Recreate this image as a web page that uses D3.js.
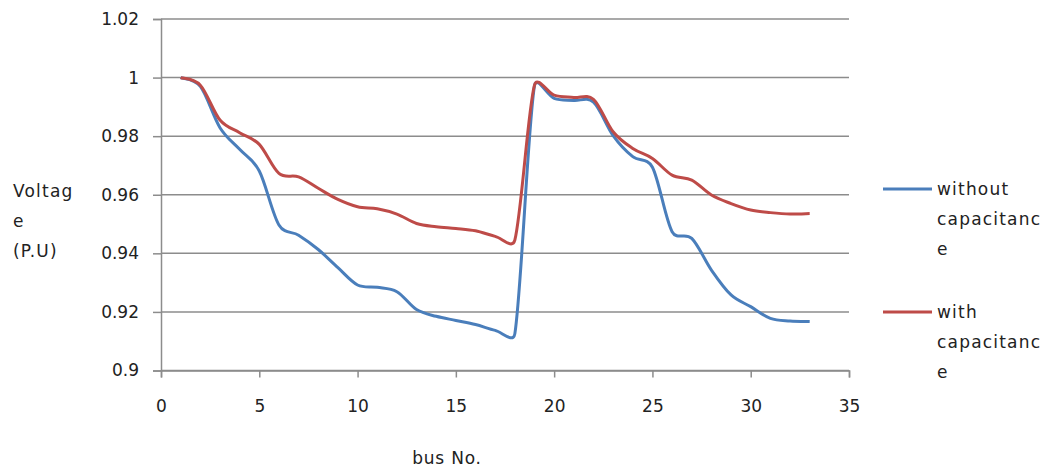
<!DOCTYPE html>
<html><head><meta charset="utf-8">
<script src="https://cdn.jsdelivr.net/npm/d3@7"></script>
<style>body{margin:0;background:#fff}svg{display:block}text{font-family:"DejaVu Sans",sans-serif;fill:#222}</style>
</head><body>
<script>
const buses = d3.range(1, 34);
const withoutCap = [1.0,0.997,0.9829,0.9755,0.9681,0.9497,0.9462,0.9413,0.9351,0.9292,0.9284,0.9269,0.9208,0.9185,0.9171,0.9157,0.9137,0.9125,0.9972,0.9929,0.9922,0.9916,0.9802,0.9730,0.9694,0.9474,0.9451,0.9343,0.9258,0.9218,0.9178,0.9169,0.9167];
const withCap = [1.0,0.9974,0.9855,0.9812,0.9772,0.9673,0.9661,0.9622,0.9584,0.9559,0.9552,0.9534,0.9502,0.9491,0.9485,0.9477,0.9458,0.9445,0.9974,0.9940,0.9932,0.9926,0.9815,0.9758,0.9724,0.9667,0.9650,0.9599,0.9570,0.9548,0.9539,0.9534,0.9536];
const xTicks = [0,5,10,15,20,25,30,35];
const yTicks = [0.9,0.92,0.94,0.96,0.98,1,1.02];
const seriesNames = ["without capacitance","with capacitance"];
const colors = ["#4a7ebb","#be4b48"];

// Excel-like smoothed line curve (Bezier, tension 1/6, tangents clipped to half segment length)
function excelSmooth(context){
  let pts=[];
  return {
    areaStart(){}, areaEnd(){},
    lineStart(){pts=[];},
    point(x,y){pts.push([+x,+y]);},
    lineEnd(){
      const n=pts.length; if(!n) return;
      const dist=(a,b)=>Math.hypot(b[0]-a[0],b[1]-a[1]);
      context.moveTo(pts[0][0],pts[0][1]);
      for(let i=0;i<n-1;i++){
        const p0=pts[Math.max(i-1,0)],p1=pts[i],p2=pts[i+1],p3=pts[Math.min(i+2,n-1)];
        const d12=dist(p1,p2),d02=dist(p0,p2),d13=dist(p1,p3);
        let f0=1/6,f3=1/6;
        if(d02/6>d12/2&&d02>0) f0=d12/(2*d02);
        if(d13/6>d12/2&&d13>0) f3=d12/(2*d13);
        const c1=[p1[0]+(p2[0]-p0[0])*f0,p1[1]+(p2[1]-p0[1])*f0];
        const c2=[p2[0]-(p3[0]-p1[0])*f3,p2[1]-(p3[1]-p1[1])*f3];
        context.bezierCurveTo(c1[0],c1[1],c2[0],c2[1],p2[0],p2[1]);
      }
    }
  };
}

const W=1046,H=469;
const svg=d3.select("body").append("svg").attr("width",W).attr("height",H);
const x=d3.scaleLinear().domain([0,35]).range([161,849]);
const y=d3.scaleLinear().domain([0.9,1.02]).range([370.5,19]);
const grid="#8c8c8c";

svg.append("g").selectAll("line").data(yTicks).join("line")
  .attr("x1",x(0)).attr("x2",x(35)).attr("y1",d=>y(d)).attr("y2",d=>y(d))
  .attr("stroke",grid).attr("stroke-width",1.5);

const ya=svg.append("g").attr("transform",`translate(${x(0)},0)`)
  .call(d3.axisLeft(y).tickValues(yTicks).tickFormat(d=>String(+d.toFixed(2))).tickSize(8).tickPadding(14));
ya.select(".domain").attr("stroke",grid).attr("stroke-width",1.5);
ya.selectAll(".tick line").attr("stroke",grid).attr("stroke-width",1.5);
ya.selectAll("text").style("font-size","17px").style("font-family","DejaVu Sans").attr("fill","#222");

const xa=svg.append("g").attr("transform",`translate(0,${y(0.9)})`)
  .call(d3.axisBottom(x).tickValues(xTicks).tickSize(7).tickPadding(22).tickFormat(d3.format("d")));
xa.select(".domain").attr("stroke",grid).attr("stroke-width",1.5);
xa.selectAll(".tick line").attr("stroke",grid).attr("stroke-width",1.5);
xa.selectAll("text").style("font-size","17px").style("font-family","DejaVu Sans").attr("fill","#222");

const line=d3.line().x((d,i)=>x(buses[i])).y(d=>y(d)).curve(excelSmooth);
[withoutCap,withCap].forEach((s,k)=>{
  svg.append("path").datum(s).attr("d",line).attr("fill","none")
    .attr("stroke",colors[k]).attr("stroke-width",3).attr("stroke-linejoin","round");
});

svg.append("text").attr("x",447).attr("y",464).attr("text-anchor","middle")
  .style("font-size","17px").style("letter-spacing","0.8px").text("bus No.");
const yt=svg.append("text").style("font-size","17px").style("letter-spacing","1.2px");
["Voltag","e","(P.U)"].forEach((t,i)=>yt.append("tspan").attr("x",13).attr("y",197+i*30).text(t));

const legY=[189,312];
const legLines=[["without","capacitanc","e"],["with","capacitanc","e"]];
legLines.forEach((ls,k)=>{
  svg.append("line").attr("x1",883).attr("x2",932).attr("y1",legY[k]).attr("y2",legY[k])
    .attr("stroke",colors[k]).attr("stroke-width",3);
  const t=svg.append("text").style("font-size","17px").style("letter-spacing","1.2px");
  ls.forEach((s,i)=>t.append("tspan").attr("x",937).attr("y",legY[k]+6+i*30).text(s));
});
</script>
</body></html>
